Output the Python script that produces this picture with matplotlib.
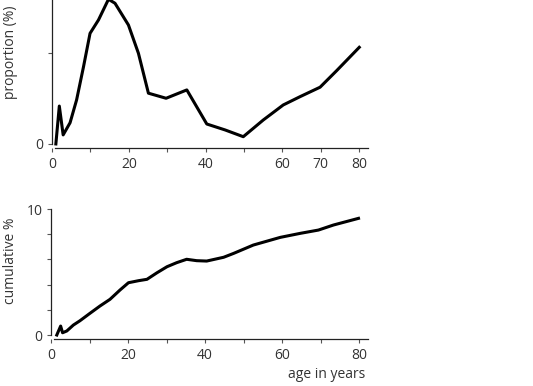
import matplotlib.pyplot as plt
import numpy as np

plt.rcParams['font.family'] = ['Open Sans', 'DejaVu Sans']

# proportion per age (top panel)
age_prop = [1.0, 1.9, 2.9, 4.7, 6.4, 8.2, 9.9, 12.1, 14.7, 16.4, 19.9, 22.5, 25.1,
            29.7, 35.1, 40.3, 45.1, 49.8, 55.0, 60.2, 64.6, 69.8, 74.1, 80.0]
proportion = [0.0, 2.09, 0.5, 1.17, 2.43, 4.26, 6.1, 6.84, 7.98, 7.76, 6.56, 5.0, 2.8,
              2.52, 2.98, 1.1, 0.77, 0.4, 1.32, 2.15, 2.61, 3.13, 4.04, 5.33]

# cumulative % per age (bottom panel)
age_cum = [1.5, 2.5, 3.0, 4.1, 5.8, 7.5, 10.1, 12.7, 15.3, 17.9, 20.1, 22.7, 24.9,
           27.5, 30.1, 32.6, 35.2, 37.8, 40.4, 44.8, 47.4, 52.5, 59.5, 64.7, 69.4,
           73.3, 79.8]
cumulative = [0.0, 0.71, 0.18, 0.32, 0.79, 1.13, 1.72, 2.3, 2.83, 3.57, 4.15, 4.31, 4.42,
              4.94, 5.42, 5.74, 6.01, 5.9, 5.87, 6.17, 6.48, 7.14, 7.75, 8.07, 8.33,
              8.73, 9.26]

top_xticks = [0, 20, 40, 60, 70, 80]
bot_xticks = [0, 20, 40, 60, 80]

txt = '#333333'
fig = plt.figure(figsize=(5.33, 3.86), dpi=100)

ax1 = fig.add_axes([0.0976, 0.6158, 0.593, 0.3842])
ax2 = fig.add_axes([0.0957, 0.121, 0.595, 0.3375])

for ax in (ax1, ax2):
    for s in ('top', 'right'):
        ax.spines[s].set_visible(False)
    for s in ('left', 'bottom'):
        ax.spines[s].set_linewidth(0.9)
        ax.spines[s].set_color('#222222')
    ax.set_xlim(0, 82.3)
    ax.set_xticks(np.arange(0, 81, 10), minor=True)
    ax.tick_params(which='both', direction='out', length=3, width=0.8,
                   color='#555555', labelsize=10, labelcolor=txt, pad=3)

# top panel
ax1.plot(age_prop, proportion, color='black', lw=2.2, solid_joinstyle='round')
ax1.set_ylim(-0.24, 7.94)
ax1.spines['left'].set_bounds(0, 7.94)
ax1.spines['bottom'].set_bounds(0.8, 82.3)
ax1.set_xticks(top_xticks)
ax1.set_yticks([0, 5])
ax1.set_yticklabels(['0', ''])
ax1.set_ylabel('proportion (%)', fontsize=10, color=txt)
ax1.yaxis.set_label_coords(-0.108, 0.65)

# bottom panel
ax2.plot(age_cum, cumulative, color='black', lw=2.2, solid_joinstyle='round')
ax2.set_ylim(-0.34, 10)
ax2.spines['left'].set_bounds(0, 10)
ax2.spines['bottom'].set_bounds(0.8, 82.3)
ax2.set_xticks(bot_xticks)
ax2.set_yticks([0, 2, 4, 6, 8, 10])
ax2.set_yticklabels(['0', '', '', '', '', '10'])
ax2.set_ylabel('cumulative %', fontsize=10, color=txt)
ax2.yaxis.set_label_coords(-0.104, 0.60)

fig.text(365 / 533, 1 - 375 / 386, 'age in years', ha='right', va='center',
         fontsize=10, color=txt)

fig.savefig('out.png', dpi=100)
